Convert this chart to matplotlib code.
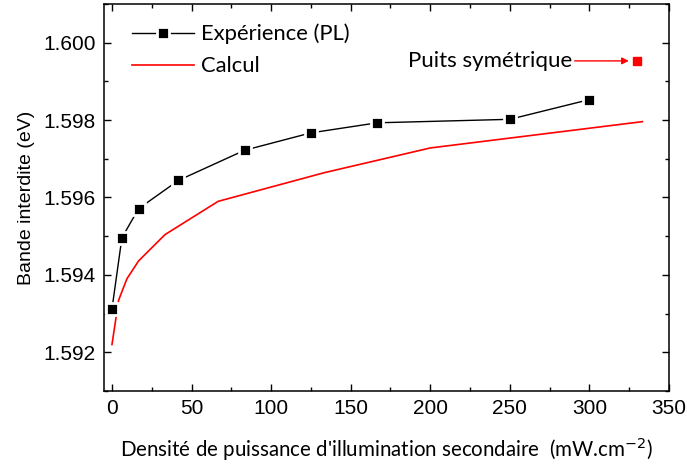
import matplotlib
matplotlib.use("Agg")
import matplotlib.pyplot as plt
from matplotlib.ticker import MultipleLocator

# Experimental PL band gap vs secondary illumination power density
exp_x = [0, 6.25, 16.7, 41.7, 83.3, 125, 166.7, 250, 300]
exp_y = [1.59312, 1.59496, 1.59571, 1.59644, 1.59722, 1.59767, 1.59793, 1.59802, 1.59853]

# Calculated band gap
calc_x = [0, 4.2, 9.4, 16.7, 33.3, 66.7, 133.3, 200, 333.3]
calc_y = [1.5922, 1.59335, 1.5939, 1.59436, 1.59504, 1.5959, 1.59664, 1.59728, 1.59796]

# Symmetric well reference point
sym_x = [330]
sym_y = [1.59953]

x_ticks = [0, 50, 100, 150, 200, 250, 300, 350]
y_ticks = [1.592, 1.594, 1.596, 1.598, 1.600]

label_font = "Lato"
tick_font = "Liberation Sans"

fig = plt.figure(figsize=(6.87, 4.71), dpi=100)
ax = fig.add_axes([0.1514, 0.1699, 0.8224, 0.8216])

ax.plot(exp_x, exp_y, color="black", lw=1.0, marker="s", ms=9,
        mfc="black", mec="white", mew=2, label="Expérience (PL)", zorder=3)
ax.plot(calc_x, calc_y, color="red", lw=1.2, label="Calcul", zorder=2)
ax.plot(sym_x, sym_y, ls="none", marker="s", ms=6, color="red", zorder=3)

ax.annotate("Puits symétrique", xy=(sym_x[0], sym_y[0]), xytext=(289, sym_y[0]),
            ha="right", va="center", fontsize=16, family=label_font,
            arrowprops=dict(arrowstyle="-|>", color="red", lw=1.0,
                            shrinkA=0, shrinkB=6, mutation_scale=10))

ax.set_xlim(-5, 350)
ax.set_ylim(1.591, 1.601)
ax.set_xticks(x_ticks)
ax.set_yticks(y_ticks)
ax.set_yticklabels([f"{v:.3f}" for v in y_ticks])
ax.xaxis.set_minor_locator(MultipleLocator(25))
ax.yaxis.set_minor_locator(MultipleLocator(0.001))

ax.tick_params(which="both", direction="in", top=True, right=True, width=1.0)
ax.tick_params(which="major", length=5, labelsize=15, pad=6)
ax.tick_params(which="minor", length=3)
for lab in ax.get_xticklabels() + ax.get_yticklabels():
    lab.set_family(tick_font)
for sp in ax.spines.values():
    sp.set_linewidth(1.1)

ax.set_xlabel("Densité de puissance d'illumination secondaire  (mW.cm$^{-2}$)",
              fontsize=14.8, family=label_font, labelpad=12)
ax.set_ylabel("Bande interdite (eV)", fontsize=14, family=tick_font, labelpad=6)

ax.legend(loc="upper left", bbox_to_anchor=(0.015, 1.0), frameon=False,
          handlelength=2.8, handletextpad=0.35, labelspacing=0.55,
          prop={"family": label_font, "size": 15.8})

fig.savefig("out.png", dpi=100)
